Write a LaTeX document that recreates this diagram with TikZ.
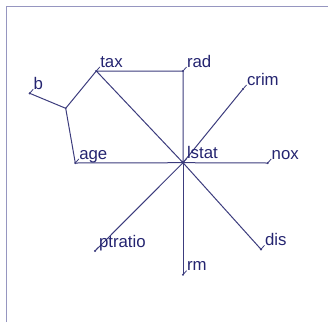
\documentclass[tikz,border=0pt]{standalone}
\usepackage{fontspec}
\setmainfont{Liberation Sans}
\definecolor{edgecol}{RGB}{60,60,125}
\definecolor{labcol}{RGB}{36,36,112}
\definecolor{framecol}{RGB}{150,150,192}
\begin{document}
\begin{tikzpicture}[x=1pt,y=-1pt,
  edge/.style={draw=edgecol,line width=1pt},
  vert/.style={circle,fill=edgecol,inner sep=0pt,minimum size=2.4pt},
  tick/.style={draw=edgecol,line width=0.8pt},
  lab/.style={anchor=base west,inner sep=0pt,text=labcol,font=\fontsize{16.8}{19}\selectfont}]
\useasboundingbox (0,0) rectangle (328,322);
% frame (left and top edges)
\draw[framecol,line width=1.3pt] (6.3,322) -- (6.3,6.3) -- (328,6.3);
% vertices
\node[vert] (lstat) at (183,162.7) {};
\node[vert] (rad) at (183,71) {};
\node[vert] (tax) at (96.3,71) {};
\node[vert] (b) at (29.7,93.3) {};
\node[vert,minimum size=1.6pt] (j) at (65.7,108.3) {};
\node[vert] (age) at (75.3,163) {};
\node[vert] (crim) at (243,89) {};
\node[vert] (nox) at (267.7,163) {};
\node[vert] (dis) at (261,249.3) {};
\node[vert] (rm) at (183,274.7) {};
\node[vert] (ptratio) at (95,251) {};
% edges
\draw[edge] (lstat.center) -- (rad.center) -- (tax.center) -- (lstat.center);
\draw[edge] (tax.center) -- (j.center) -- (b.center);
\draw[edge] (j.center) -- (age.center) -- (lstat.center);
\draw[edge] (lstat.center) -- (crim.center);
\draw[edge] (lstat.center) -- (nox.center);
\draw[edge] (lstat.center) -- (dis.center);
\draw[edge] (lstat.center) -- (rm.center);
\draw[edge] (lstat.center) -- (ptratio.center);
\node[vert,minimum size=3.2pt] at (lstat) {};
% label ticks and labels
\foreach \v/\t in {lstat/lstat,rad/rad,tax/tax,b/b,age/age,crim/crim,nox/nox,dis/dis,rm/rm,ptratio/ptratio}{
  \draw[tick] (\v.center) -- ++(3.5,-4) coordinate (\v-t);
  \node[lab] (\v-l) at ([xshift=0.3pt,yshift=-0.2pt]\v-t) {\t};
}
\end{tikzpicture}
\end{document}
